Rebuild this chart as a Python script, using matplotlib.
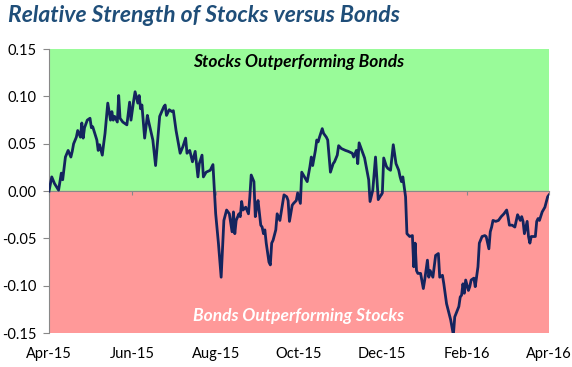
import numpy as np
import pandas as pd
import matplotlib
matplotlib.use("Agg")
import matplotlib.pyplot as plt
import matplotlib.dates as mdates

plt.rcParams['font.family'] = ['Lato', 'DejaVu Sans']

# days since 2015-04-01 and relative strength values
days = [0, 2, 4, 7, 9, 10, 12, 14, 16, 17, 18, 20, 21, 23, 24, 25, 26, 28, 30, 31,
        32, 35, 36, 37, 39, 40, 41, 43, 45, 46, 47, 48, 50, 51, 52, 54, 57, 59, 60, 62,
        63, 65, 66, 67, 68, 70, 72, 73, 76, 78, 81, 84, 85, 86, 88, 90, 91, 93, 96, 98,
        100, 101, 103, 105, 107, 109, 110, 112, 113, 115, 118, 120, 122, 124, 126, 128, 130, 132, 134, 135,
        136, 137, 139, 140, 141, 142, 144, 146, 147, 148, 150, 151, 152, 153, 155, 156, 157, 158, 159, 161,
        162, 163, 164, 166, 167, 169, 170, 172, 174, 175, 176, 178, 179, 181, 182, 184, 185, 187, 189, 191,
        192, 193, 195, 196, 197, 198, 200, 201, 203, 204, 206, 208, 209, 211, 212, 214, 217, 219, 222, 223,
        225, 226, 227, 229, 231, 233, 234, 235, 237, 238, 239, 241, 244, 245, 247, 248, 250, 252, 254, 256,
        257, 258, 259, 261, 262, 264, 266, 267, 268, 269, 270, 272, 274, 275, 277, 278, 279, 281, 283, 285,
        286, 288, 289, 291, 294, 295, 296, 297, 300, 301, 302, 303, 304, 305, 307, 308, 309, 311, 312, 314,
        315, 317, 319, 320, 322, 323, 324, 325, 327, 329, 331, 333, 335, 336, 337, 339, 341, 343, 345, 346,
        347, 348, 350, 351, 352, 353, 356, 357, 358, 359, 361, 363, 365, 366]
values = [0.000, 0.015, 0.008, 0.001, 0.019, 0.012, 0.036, 0.043, 0.036, 0.042, 0.050, 0.057, 0.064, 0.057, 0.072, 0.056, 0.067, 0.075, 0.077, 0.067,
          0.068, 0.054, 0.043, 0.049, 0.038, 0.050, 0.061, 0.093, 0.075, 0.084, 0.075, 0.079, 0.073, 0.101, 0.077, 0.073, 0.070, 0.094, 0.075, 0.096,
          0.105, 0.093, 0.101, 0.087, 0.091, 0.056, 0.080, 0.073, 0.054, 0.027, 0.079, 0.089, 0.091, 0.080, 0.086, 0.084, 0.085, 0.064, 0.040, 0.047,
          0.056, 0.040, 0.043, 0.031, 0.042, 0.015, 0.029, 0.038, 0.015, 0.020, 0.022, 0.028, -0.024, -0.055, -0.091, -0.031, -0.020, -0.024, -0.043, -0.022,
          -0.045, -0.031, -0.024, -0.027, -0.011, -0.020, -0.017, -0.024, -0.006, 0.017, 0.010, -0.027, -0.017, -0.010, -0.036, -0.038, -0.045, -0.041, -0.055, -0.075,
          -0.078, -0.055, -0.052, -0.041, -0.024, -0.031, -0.022, -0.004, -0.006, -0.010, -0.032, -0.015, -0.013, -0.010, -0.002, -0.013, 0.020, 0.015, 0.010, 0.026,
          0.036, 0.027, 0.043, 0.054, 0.052, 0.057, 0.066, 0.061, 0.057, 0.054, 0.020, 0.029, 0.031, 0.038, 0.048, 0.045, 0.043, 0.042, 0.040, 0.036,
          0.043, 0.029, 0.051, 0.043, 0.035, 0.020, 0.012, -0.011, 0.001, 0.019, 0.036, -0.009, -0.002, 0.035, 0.026, 0.024, 0.022, 0.049, 0.029, 0.022,
          0.015, 0.010, 0.015, -0.006, -0.045, -0.048, -0.047, -0.080, -0.055, -0.084, -0.087, -0.087, -0.103, -0.094, -0.073, -0.091, -0.084, -0.091, -0.068, -0.066,
          -0.091, -0.089, -0.098, -0.119, -0.136, -0.144, -0.152, -0.133, -0.122, -0.112, -0.110, -0.098, -0.108, -0.094, -0.105, -0.101, -0.094, -0.092, -0.101, -0.080,
          -0.055, -0.048, -0.047, -0.048, -0.061, -0.043, -0.038, -0.031, -0.032, -0.031, -0.027, -0.024, -0.020, -0.027, -0.036, -0.036, -0.038, -0.025, -0.031, -0.027,
          -0.032, -0.045, -0.032, -0.048, -0.055, -0.048, -0.048, -0.032, -0.029, -0.031, -0.022, -0.017, -0.006, -0.004]

start = pd.Timestamp("2015-04-01")
end = pd.Timestamp("2016-04-01")
dates = start + pd.to_timedelta(days, unit="D")
tick_dates = pd.date_range(start, end, freq="2MS")
yticks = [0.15, 0.10, 0.05, 0.00, -0.05, -0.10, -0.15]

fig = plt.figure(figsize=(5.72, 3.67), dpi=100)
ax = fig.add_axes([0.0857, 0.0926, 0.8741, 0.7734])

ax.axhspan(0, 0.15, color="#99FB99", zorder=0)
ax.axhspan(-0.15, 0, color="#FF9999", zorder=0)
ax.plot(dates, values, color="#14245E", lw=2, zorder=3)

ax.set_xlim(start, end)
ax.set_ylim(-0.15, 0.15)
ax.set_yticks(yticks)
ax.yaxis.set_major_formatter(matplotlib.ticker.FormatStrFormatter("%.2f"))
ax.set_xticks(tick_dates)
ax.xaxis.set_major_formatter(mdates.DateFormatter("%b-%y"))

for s in ["top", "right"]:
    ax.spines[s].set_visible(False)
ax.spines["left"].set_color("#888888")
ax.spines["bottom"].set_position(("data", 0))
ax.spines["bottom"].set_color("#888888")
ax.spines["bottom"].set_zorder(2)
ax.tick_params(axis="y", colors="#888888", labelcolor="black", labelsize=10.5, length=4, pad=5)
ax.tick_params(axis="x", colors="#888888", labelcolor="black", labelsize=10.5, length=3, pad=109)

ax.text(0.5, 0.955, "Stocks Outperforming Bonds", transform=ax.transAxes, ha="center", va="center",
        fontsize=12.5, fontweight="bold", fontstyle="italic", color="black")
ax.text(0.5, 0.06, "Bonds Outperforming Stocks", transform=ax.transAxes, ha="center", va="center",
        fontsize=12.5, fontweight="bold", fontstyle="italic", color="white")

fig.text(0.014, 0.958, "Relative Strength of Stocks versus Bonds", ha="left", va="center",
         fontsize=16.5, fontweight="bold", fontstyle="italic", color="#1F4E79")

fig.savefig("out.png", dpi=100)
